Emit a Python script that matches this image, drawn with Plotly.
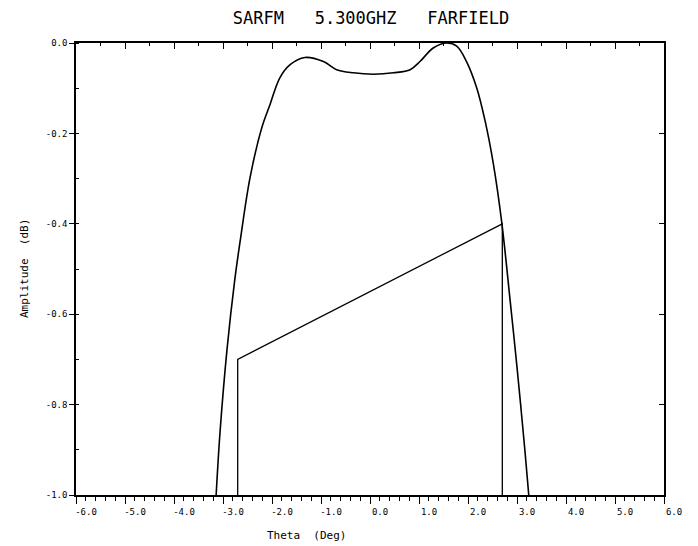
import plotly.graph_objects as go

# Main beam far-field amplitude (dB) vs theta (deg)
theta = [-3.14, -3.06, -2.92, -2.76, -2.64, -2.45, -2.21, -2.04, -1.84, -1.63,
         -1.33, -0.95, -0.68, -0.34, 0.07, 0.48, 0.82, 1.02, 1.29, 1.57,
         1.77, 1.97, 2.18, 2.35, 2.52, 2.69, 2.86, 3.00, 3.16, 3.24]
amplitude = [-1.0, -0.86, -0.68, -0.524, -0.431, -0.299, -0.188, -0.136, -0.077, -0.048,
             -0.032, -0.041, -0.059, -0.066, -0.069, -0.066, -0.059, -0.041, -0.011, 0.0,
             -0.007, -0.041, -0.10, -0.173, -0.269, -0.398, -0.57, -0.717, -0.90, -1.0]

# Template / mask outline
mask_theta = [-2.7, -2.7, 2.7, 2.7]
mask_amp = [-1.0, -0.7, -0.4, -1.0]

x_ticks = [-6, -5, -4, -3, -2, -1, 0, 1, 2, 3, 4, 5, 6]
x_labels = ["-6.0", "-5.0", "-4.0", "-3.0", "-2.0", "-1.0", "0.0", "1.0", "2.0", "3.0", "4.0", "5.0", "6.0"]
y_ticks = [0.0, -0.2, -0.4, -0.6, -0.8, -1.0]
y_labels = ["0.0", "-0.2", "-0.4", "-0.6", "-0.8", "-1.0"]

TICKFONT = dict(family="DejaVu Sans Mono", size=9, color="black")

fig = go.Figure()
fig.add_trace(go.Scatter(x=theta, y=amplitude, mode="lines",
                         line=dict(color="black", width=1.6, shape="spline", smoothing=1.0),
                         showlegend=False, hoverinfo="skip"))
fig.add_trace(go.Scatter(x=mask_theta, y=mask_amp, mode="lines",
                         line=dict(color="black", width=1.3),
                         showlegend=False, hoverinfo="skip"))
# invisible trace so the overlaid top/right axes are drawn
fig.add_trace(go.Scatter(x=[0], y=[0], xaxis="x2", yaxis="y2", mode="markers",
                         marker=dict(opacity=0), showlegend=False, hoverinfo="skip"))

fig.update_layout(
    width=698, height=546,
    margin=dict(l=68, r=42, t=35, b=59),
    paper_bgcolor="white", plot_bgcolor="white",
    title=dict(text="SARFM   5.300GHZ   FARFIELD", x=0.52, xanchor="center",
               y=0.982, yanchor="middle",
               font=dict(family="DejaVu Sans Mono", size=17, color="black")),
    xaxis=dict(range=[-6, 6], tickvals=x_ticks, ticktext=x_labels, tickfont=TICKFONT,
               ticks="outside", ticklen=7, tickwidth=1.3, tickcolor="black",
               ticklabelshift=10,
               minor=dict(dtick=0.2, ticks="outside", ticklen=4, tickwidth=1, tickcolor="black"),
               showline=True, linecolor="black", linewidth=1.5, mirror=True,
               showgrid=False, zeroline=False),
    yaxis=dict(range=[-1.0, 0.0], tickvals=y_ticks, ticktext=y_labels, tickfont=TICKFONT,
               ticks="outside", ticklen=5, tickwidth=1.3, tickcolor="black",
               minor=dict(dtick=0.1, ticks="inside", ticklen=3, tickwidth=1, tickcolor="black"),
               showline=True, linecolor="black", linewidth=1.5, mirror=True,
               showgrid=False, zeroline=False),
    xaxis2=dict(range=[-6, 6], overlaying="x", side="top", anchor="y",
                tickvals=x_ticks, showticklabels=False,
                ticks="inside", ticklen=6, tickwidth=1.2, tickcolor="black",
                minor=dict(dtick=0.5, ticks="inside", ticklen=3, tickwidth=1, tickcolor="black"),
                showline=False, showgrid=False, zeroline=False),
    yaxis2=dict(range=[-1.0, 0.0], overlaying="y", side="right", anchor="x",
                tickvals=y_ticks, showticklabels=False,
                ticks="inside", ticklen=5, tickwidth=1.2, tickcolor="black",
                showline=False, showgrid=False, zeroline=False),
    annotations=[
        dict(text="Theta  (Deg)", xref="paper", yref="paper", x=(306 - 76) / 588, y=-40 / 452,
             xanchor="center", yanchor="middle", showarrow=False,
             font=dict(family="DejaVu Sans Mono", size=11, color="black")),
        dict(text="Amplitude  (dB)", xref="paper", yref="paper", x=(24 - 76) / 588, y=0.5,
             xanchor="center", yanchor="middle", textangle=-90, showarrow=False,
             font=dict(family="DejaVu Sans Mono", size=11, color="black")),
    ],
)

fig.write_html("out.html")
